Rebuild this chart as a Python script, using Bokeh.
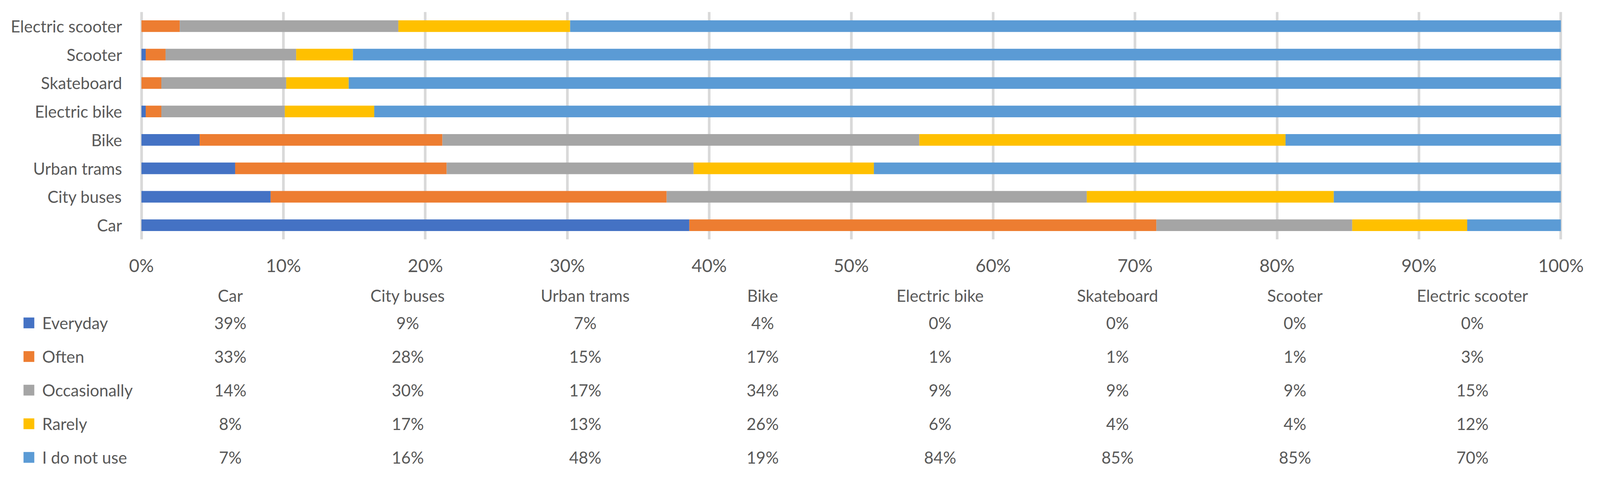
from bokeh.plotting import figure
from bokeh.models import (FactorRange, Range1d, FixedTicker, Legend, LegendItem,
                          ColumnDataSource)
from bokeh.embed import file_html
from bokeh.resources import INLINE
from bokeh.core.properties import value

# ---------------- data ----------------
categories = ["Car", "City buses", "Urban trams", "Bike", "Electric bike",
              "Skateboard", "Scooter", "Electric scooter"]
series = ["Everyday", "Often", "Occasionally", "Rarely", "I do not use"]
colors = ["#4472C4", "#ED7D31", "#A5A5A5", "#FFC000", "#5B9BD5"]

everyday     = [38.6,  9.1,  6.6,  4.1,  0.3,  0.0,  0.3,  0.0]
often        = [32.9, 27.9, 14.9, 17.1,  1.1,  1.4,  1.4,  2.7]
occasionally = [13.8, 29.6, 17.4, 33.6,  8.7,  8.8,  9.2, 15.4]
rarely       = [ 8.1, 17.4, 12.7, 25.8,  6.3,  4.4,  4.0, 12.1]
not_use      = [ 6.6, 16.0, 48.4, 19.4, 83.6, 85.4, 85.1, 69.8]

x_ticks = [0, 10, 20, 30, 40, 50, 60, 70, 80, 90, 100]
x_tick_labels = ["0%", "10%", "20%", "30%", "40%", "50%", "60%", "70%",
                 "80%", "90%", "100%"]

values = [everyday, often, occasionally, rarely, not_use]

FONT = "Lato"
TXT = "#595959"

# layout constants (CSS pixels; page is shown slightly enlarged)
S = 4096 / 4261
def px(v):
    return v * S

TOTAL_W = 4080                 # figure width
PLOT_LEFT = round(px(377))     # 0% line from figure left
PLOT_W = round(px(3780))       # 0%..100%
RIGHT = TOTAL_W - PLOT_LEFT - PLOT_W
PAD = 0.1                      # range padding so edge grid lines show

F_TXT = "42px"
F_TICK = "46px"

# 100% stacked shares
totals = [sum(v[i] for v in values) for i in range(len(categories))]
data = {"cat": categories}
for name, vals in zip(series, values):
    data[name] = [vals[i] / totals[i] * 100 for i in range(len(categories))]
src = ColumnDataSource(data)

# ---------------- bar chart ----------------
unit = PLOT_W / 100.0
pad_px = PAD * unit
p1 = figure(frame_width=int(round(PLOT_W + 2 * pad_px)), frame_height=582,
            y_range=FactorRange(*categories, range_padding=0),
            x_range=Range1d(-PAD, 100 + PAD),
            output_backend="svg", toolbar_location=None,
            min_border_left=int(round(PLOT_LEFT - pad_px)),
            min_border_right=int(round(RIGHT - pad_px)) - 1,
            min_border_top=30, min_border_bottom=110)
p1.hbar_stack(series, y="cat", height=0.41, color=colors, line_color=None,
              source=src)

p1.outline_line_color = None
p1.ygrid.grid_line_color = None
p1.xgrid.grid_line_color = "#D9D9D9"
p1.xgrid.grid_line_width = 6.7
p1.xaxis.ticker = FixedTicker(ticks=x_ticks)
p1.xaxis.major_label_overrides = {t: l for t, l in zip(x_ticks, x_tick_labels)}
for ax in (p1.xaxis[0], p1.yaxis[0]):
    ax.axis_line_color = None
    ax.major_tick_line_color = None
    ax.minor_tick_line_color = None
    ax.major_tick_out = 0
    ax.major_tick_in = 0
    ax.major_label_text_font = FONT
    ax.major_label_text_color = TXT
p1.xaxis.major_label_text_font_size = F_TICK
p1.xaxis.major_label_standoff = 38
p1.yaxis.major_label_text_font_size = F_TXT
p1.yaxis.major_label_standoff = 46

# ---------------- data table ----------------
ncol = len(categories)
col_px = PLOT_W / ncol
rows = list(range(1, len(series) + 1))
col_pos = [i + 0.5 for i in range(ncol)]

GLYPH = 69
SPACING = 17
pitch = GLYPH + SPACING
half = (GLYPH / 2) / pitch
p2 = figure(frame_width=PLOT_LEFT + PLOT_W,
            frame_height=len(series) * GLYPH + (len(series) - 1) * SPACING,
            x_range=Range1d(-PLOT_LEFT / col_px, ncol),
            y_range=Range1d(len(series) + half, 1 - half),
            x_axis_location="above", y_axis_location=None,
            output_backend="svg", toolbar_location=None,
            min_border_left=0, min_border_right=RIGHT,
            min_border_top=69, min_border_bottom=0)
p2.outline_line_color = None
p2.grid.grid_line_color = None
ax = p2.xaxis[0]
ax.ticker = FixedTicker(ticks=col_pos)
ax.major_label_overrides = {p: c for p, c in zip(col_pos, categories)}
ax.axis_line_color = None
ax.major_tick_line_color = None
ax.minor_tick_line_color = None
ax.major_tick_out = 0
ax.major_tick_in = 0
ax.major_label_text_font = FONT
ax.major_label_text_color = TXT
ax.major_label_text_font_size = F_TXT
ax.major_label_standoff = 11

tx, ty, tt = [], [], []
for r, vals in zip(rows, values):
    for i in range(ncol):
        tx.append(col_pos[i])
        ty.append(r)
        tt.append(f"{round(vals[i]):d}%")
tsrc = ColumnDataSource(dict(x=tx, y=ty, t=tt))
p2.text(x="x", y="y", text="t", source=tsrc, text_align="center",
        text_baseline="middle", text_font=value(FONT),
        text_font_size=F_TXT, text_color=TXT)

# legend swatches (zero-size markers: only the legend glyph is visible)
items = []
for name, c, r_i in zip(series, colors, rows):
    r = p2.scatter(x=[col_pos[0]], y=[r_i], marker="square", size=0,
                   fill_color=c, line_color=None)
    items.append(LegendItem(label=name, renderers=[r]))
legend = Legend(items=items, location=(39, 0), orientation="vertical",
                glyph_width=GLYPH, glyph_height=GLYPH, label_height=GLYPH,
                spacing=SPACING, padding=0, margin=0, label_standoff=-9,
                border_line_color=None, background_fill_alpha=0,
                label_text_font=FONT, label_text_font_size=F_TXT,
                label_text_color=TXT)
p2.add_layout(legend, "center")

open("out.html", "w").write(file_html([p1, p2], INLINE))
